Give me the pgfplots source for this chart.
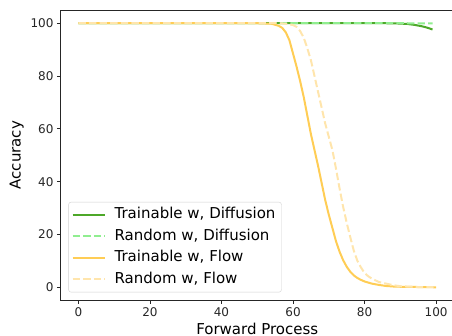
\documentclass[border=0pt]{standalone}
\usepackage{pgfplots}
\pgfplotsset{compat=1.18}
\usepackage{fontspec}
\setmainfont{DejaVu Sans}
\definecolor{tgreen}{RGB}{77,168,41}
\definecolor{rgreen}{RGB}{144,238,144}
\definecolor{tflow}{RGB}{255,205,85}
\definecolor{rflow}{RGB}{255,229,172}
\begin{document}
\begin{tikzpicture}
\useasboundingbox (-60.5pt,-35.5pt) rectangle (391.5pt,300.5pt);
\begin{axis}[
  at={(0pt,0pt)}, anchor=south west,
  scale only axis,
  width=393.5pt, height=290.5pt,
  xmin=-5, xmax=105, ymin=-5, ymax=105,
  axis lines*=left,
  xtick={0,20,40,60,80,100}, ytick={0,20,40,60,80,100},
  xticklabels={0,20,40,60,80,100}, yticklabels={0,20,40,60,80,100},
  tick align=outside, major tick length=3.5pt,
  every tick/.append style={black!85, line width=0.8pt},
  axis line style={draw=black!85, line width=0.8pt},
  tick label style={font=\fontsize{12}{14}\selectfont, text=black!85},
  xlabel={Forward Process}, ylabel={Accuracy},
  label style={font=\fontsize{15}{18}\selectfont},
  after end axis/.code={\draw[black!85, line width=0.8pt] (rel axis cs:0,1) -- (rel axis cs:1,1) -- (rel axis cs:1,0);},
  legend cell align=left,
  legend style={at={(0.02,0.028)}, anchor=south west,
    font=\fontsize{15}{18}\selectfont,
    draw=black!18, rounded corners=2.5pt, fill=white, fill opacity=0.8, text opacity=1,
    inner xsep=3pt, inner ysep=2pt,
    nodes={inner ysep=3.5pt, inner xsep=3pt, text height=11pt, text depth=3.5pt},
    /tikz/every odd column/.append style={column sep=6pt}},
  legend image code/.code={\draw[#1] (0pt,0pt) -- (32pt,0pt);},
]
\addplot[tgreen, line width=2pt] coordinates {
(0,100) (20,100) (40,100) (60,100) (80,100) (85,100) (88,99.95) (90,99.85) (92,99.7) (94,99.35) (96,98.85) (97,98.5) (98,98.1) (99,97.6)};
\addlegendentry{Trainable w, Diffusion}
\addplot[rgreen, line width=2pt, dash pattern=on 7.4pt off 3.2pt] coordinates {
(0,100) (20,100) (40,100) (60,100) (80,100) (90,100) (95,99.95) (99,99.9)};
\addlegendentry{Random w, Diffusion}
\addplot[tflow, line width=2pt] coordinates {
(0,100) (20,100) (40,100) (50,100) (54,99.8) (56,99) (57,98.2) (58,96.5) (59,93.5) (60,88.5) (61,83.5) (62,78) (63,72) (64,65) (65,58) (66,52) (67,46) (68,39.5) (69,33) (70,27.5) (71,22.5) (72,17.5) (73,13.5) (74,10.3) (75,7.8) (76,5.9) (77,4.5) (78,3.5) (79,2.8) (80,2.2) (82,1.4) (84,0.9) (86,0.5) (88,0.3) (90,0.2) (95,0.1) (100,0)};
\addlegendentry{Trainable w, Flow}
\addplot[rflow, line width=2pt, dash pattern=on 7.4pt off 3.2pt] coordinates {
(0,100) (20,100) (40,100) (56,100) (58,99.8) (60,99.3) (61,98.6) (62,97) (63,94.5) (64,90.5) (65,86) (66,80) (67,74) (68,68) (69,62) (70,57) (71,52) (72,45) (73,37.5) (74,30.5) (75,24.5) (76,19) (77,13.8) (78,10) (79,7.5) (80,5.4) (81,4.2) (82,3.3) (84,2) (86,1.4) (88,0.8) (90,0.4) (95,0.1) (100,0)};
\addlegendentry{Random w, Flow}
\end{axis}
\end{tikzpicture}
\end{document}
